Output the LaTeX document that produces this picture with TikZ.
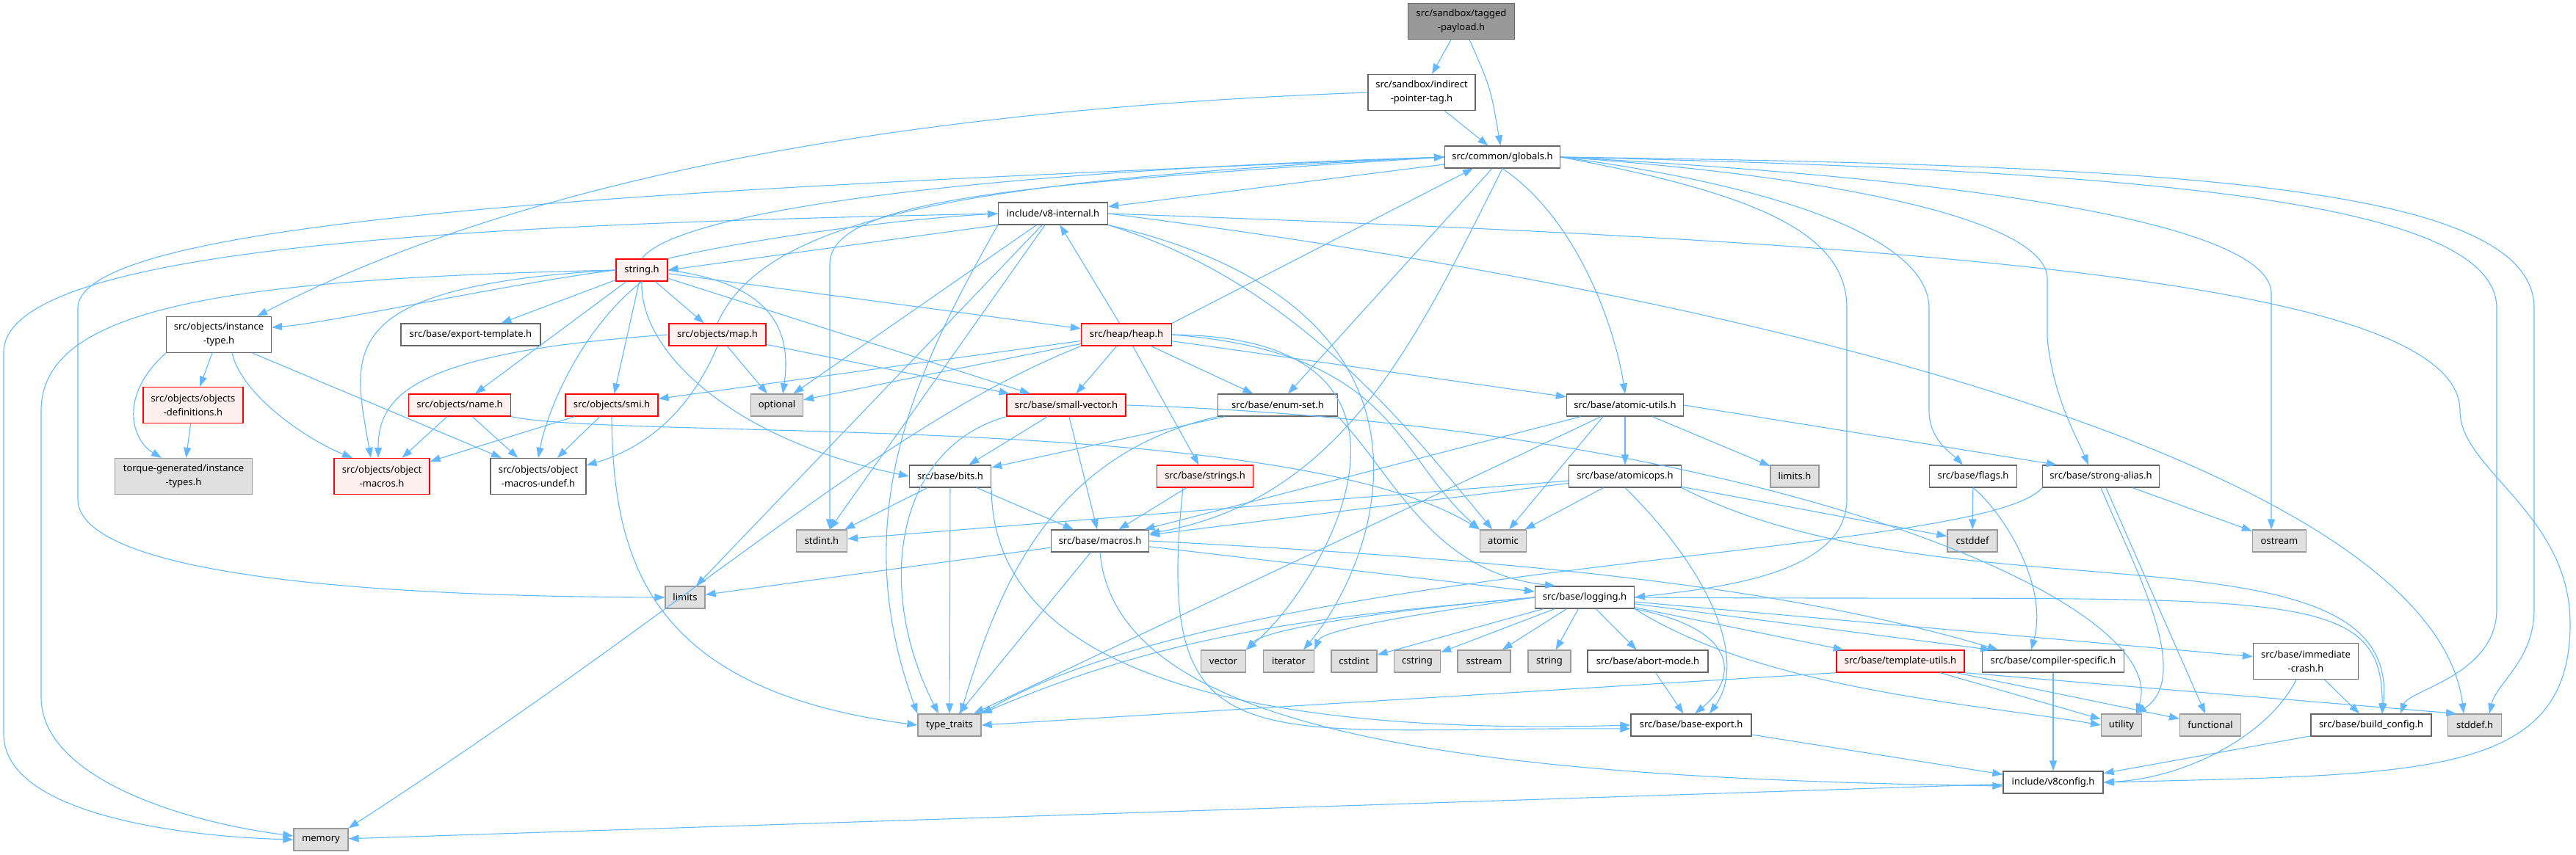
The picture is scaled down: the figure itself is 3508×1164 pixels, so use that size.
\documentclass[tikz,border=0pt]{standalone}
\usepackage{fontspec}
\setmainfont{Noto Sans}
\usetikzlibrary{arrows.meta}
\definecolor{edgeblue}{HTML}{63B8FF}
\definecolor{hdrline}{HTML}{666666}
\definecolor{sysline}{HTML}{999999}
\definecolor{sysfill}{HTML}{E0E0E0}
\definecolor{cutline}{HTML}{FF0000}
\definecolor{cutfill}{HTML}{FFF0F0}
\definecolor{rootfill}{HTML}{999999}
\tikzset{
  hdr/.style={draw=hdrline, fill=white, line width=1.3pt, inner sep=0pt,
    minimum height=30pt, align=center, font=\fontsize{13pt}{19pt}\selectfont},
  syshdr/.style={hdr, draw=sysline, fill=sysfill},
  cuthdr/.style={hdr, draw=cutline, fill=cutfill},
  roothdr/.style={hdr, fill=rootfill},
  twoline/.style={minimum height=49pt},
  incl/.style={draw=edgeblue, line width=1.1pt, -{Triangle[length=14pt,width=10pt]}}
}
\begin{document}
\begin{tikzpicture}[x=1pt,y=-1pt]
\useasboundingbox (0,0) rectangle (3508,1164);

\node[roothdr,twoline,minimum width=145pt] (tagged) at (1990,29) {src/sandbox/tagged\\-payload.h};
\node[hdr,twoline,minimum width=146pt] (indirect) at (1936,126) {src/sandbox/indirect\\-pointer-tag.h};
\node[hdr,minimum width=157pt] (globals) at (2046,214) {src/common/globals.h};
\node[hdr,minimum width=149pt] (v8internal) at (1434,291) {include/v8-internal.h};
\node[cuthdr,minimum width=70pt] (stringh) at (874,368) {string.h};
\node[hdr,twoline,minimum width=143pt] (instancetype) at (298,456) {src/objects/instance\\-type.h};
\node[hdr,minimum width=190pt] (exporttemplate) at (641,456) {src/base/export-template.h};
\node[cuthdr,minimum width=132pt] (maph) at (977,456) {src/objects/map.h};
\node[cuthdr,minimum width=123pt] (heaph) at (1534,456) {src/heap/heap.h};
\node[cuthdr,twoline,minimum width=136pt] (objdefs) at (263,552) {src/objects/objects\\-definitions.h};
\node[cuthdr,minimum width=139pt] (nameh) at (626,552) {src/objects/name.h};
\node[cuthdr,minimum width=126pt] (smih) at (833,552) {src/objects/smi.h};
\node[syshdr,minimum width=71pt] (optional) at (1058,552) {optional};
\node[cuthdr,minimum width=162pt] (smallvector) at (1452,552) {src/base/small-vector.h};
\node[hdr,minimum width=163pt] (enumset) at (1740,552) {src/base/enum-set.h};
\node[hdr,minimum width=159pt] (atomicutils) at (2213,552) {src/base/atomic-utils.h};
\node[syshdr,twoline,minimum width=187pt] (torque) at (250,649) {torque-generated/instance\\-types.h};
\node[cuthdr,twoline,minimum width=130pt] (objmacros) at (520,649) {src/objects/object\\-macros.h};
\node[hdr,twoline,minimum width=130pt] (macrosundef) at (733,649) {src/objects/object\\-macros-undef.h};
\node[hdr,minimum width=111pt] (bits) at (1294,649) {src/base/bits.h};
\node[cuthdr,minimum width=131pt] (strings) at (1641,649) {src/base/strings.h};
\node[hdr,minimum width=153pt] (atomicops) at (2213,649) {src/base/atomicops.h};
\node[syshdr,minimum width=66pt] (limitsh) at (2444,649) {limits.h};
\node[hdr,minimum width=119pt] (flags) at (2687,649) {src/base/flags.h};
\node[hdr,minimum width=159pt] (strongalias) at (2861,649) {src/base/strong-alias.h};
\node[syshdr,minimum width=69pt] (stdint) at (1119,737) {stdint.h};
\node[hdr,minimum width=133pt] (macros) at (1498,737) {src/base/macros.h};
\node[syshdr,minimum width=63pt] (atomic) at (2047,737) {atomic};
\node[syshdr,minimum width=68pt] (cstddef) at (2686,737) {cstddef};
\node[syshdr,minimum width=73pt] (ostream) at (3104,737) {ostream};
\node[syshdr,minimum width=54pt] (limits) at (933,814) {limits};
\node[hdr,minimum width=135pt] (logging) at (2158,814) {src/base/logging.h};
\node[syshdr,minimum width=61pt] (vector) at (1666,901) {vector};
\node[syshdr,minimum width=69pt] (iterator) at (1755,901) {iterator};
\node[syshdr,minimum width=62pt] (cstdint) at (1844,901) {cstdint};
\node[syshdr,minimum width=63pt] (cstring) at (1930,901) {cstring};
\node[syshdr,minimum width=72pt] (sstream) at (2021,901) {sstream};
\node[syshdr,minimum width=58pt] (string) at (2110,901) {string};
\node[hdr,minimum width=164pt] (abortmode) at (2244,901) {src/base/abort-mode.h};
\node[cuthdr,minimum width=174pt] (templateutils) at (2588,901) {src/base/template-utils.h};
\node[hdr,minimum width=193pt] (compilerspecific) at (2796,901) {src/base/compiler-specific.h};
\node[hdr,twoline,minimum width=143pt] (immediatecrash) at (3140,901) {src/base/immediate\\-crash.h};
\node[syshdr,minimum width=86pt] (typetraits) at (1293,988) {type\_traits};
\node[hdr,minimum width=164pt] (baseexport) at (2303,988) {src/base/base-export.h};
\node[syshdr,minimum width=55pt] (utility) at (2889,988) {utility};
\node[syshdr,minimum width=83pt] (functional) at (3010,988) {functional};
\node[hdr,minimum width=164pt] (buildconfig) at (3229,988) {src/base/build\_config.h};
\node[syshdr,minimum width=73pt] (stddefh) at (3370,988) {stddef.h};
\node[hdr,minimum width=136pt] (v8config) at (2796,1066) {include/v8config.h};
\node[syshdr,minimum width=74pt] (memory) at (437,1144) {memory};

\draw[incl] (tagged) -- (indirect);
\draw[incl] (tagged) .. controls (2030,120) .. (globals);
\draw[incl] (indirect) -- (globals);
\draw[incl] (indirect.west) .. controls (1200,150) and (700,250) .. ([xshift=-20pt]instancetype.north east);

\draw[incl] (globals) -- (v8internal);
\draw[incl] (globals.west) .. controls (1000,255) and (106,290) .. (106,420) -- (106,680) .. controls (106,760) and (350,812) .. (limits.west);
\draw[incl] (globals.west) .. controls (1400,250) and (1130,270) .. (1130,360) -- ([xshift=11pt]stdint.north);
\draw[incl] (globals.east) .. controls (2800,250) and (3093,320) .. (3093,400) -- ([xshift=-11pt]ostream.north);
\draw[incl] (globals.south) .. controls (2150,300) and (2200,450) .. (atomicutils.north);
\draw[incl] (globals.east) .. controls (2900,232) and (3400,270) .. (3400,420) -- (3400,830) .. controls (3400,920) and (3280,940) .. ([xshift=40pt]buildconfig.north);
\draw[incl] (globals.east) .. controls (2950,225) and (3451,250) .. (3451,420) -- (3451,830) .. controls (3451,900) and (3400,930) .. ([xshift=20pt]stddefh.north);
\draw[incl] (globals.east) .. controls (2500,240) and (2788,300) .. (2788,380) -- (2788,460) .. controls (2795,540) and (2830,600) .. ([xshift=-17pt]strongalias.north);
\draw[incl] (globals.east) .. controls (2400,250) and (2627,320) .. (2627,420) -- (2627,560) .. controls (2627,600) and (2660,620) .. ([xshift=-14pt]flags.north);
\draw[incl] (globals.east) .. controls (2400,265) and (2515,320) .. (2515,420) -- (2515,680) .. controls (2515,780) and (2350,800) .. (logging.east);
\draw[incl] (globals) -- (enumset);
\draw[incl] (globals.south) .. controls (1930,460) and (1830,680) .. ([yshift=10pt]macros.east);

\draw[incl] (v8internal.south west) -- (stringh.east);
\draw[incl] (v8internal.east) .. controls (2600,430) and (3320,680) .. ([xshift=-15pt]stddefh.north);
\draw[incl] (v8internal) -- (stdint);
\draw[incl] (v8internal) -- (limits);
\draw[incl] (v8internal) -- (optional);
\draw[incl] (v8internal.south west) .. controls (1250,500) and (1150,700) .. (typetraits.north west);
\draw[incl] (v8internal.south east) .. controls (1750,380) and (1900,560) .. ([xshift=-15pt]atomic.north);
\draw[incl] (v8internal.south east) .. controls (2000,420) and (1880,760) .. ([xshift=20pt]iterator.north);
\draw[incl] (v8internal.west) .. controls (700,305) and (5,330) .. (5,480) -- (5,1000) .. controls (5,1110) and (250,1140) .. (memory.west);
\draw[incl] (v8internal.east) .. controls (2600,330) and (3350,380) .. (3350,560) .. controls (3350,640) and (3500,700) .. (3500,850) .. controls (3500,1060) and (3300,1055) .. (v8config.east);

\draw[incl] (stringh.north) .. controls (920,290) and (1300,235) .. (globals.west);
\draw[incl] (stringh.north east) .. controls (1000,330) and (1200,300) .. (v8internal.west);
\draw[incl] (stringh.west) .. controls (700,385) and (450,440) .. ([yshift=10pt]instancetype.east);
\draw[incl] (stringh) -- (exporttemplate);
\draw[incl] (stringh) -- (maph);
\draw[incl] (stringh) -- (heaph);
\draw[incl] (stringh) -- (smallvector);
\draw[incl] (stringh) -- (smih);
\draw[incl] (stringh) -- (nameh);
\draw[incl] (stringh.west) .. controls (450,390) and (480,480) .. ([xshift=-15pt]objmacros.north);
\draw[incl] (stringh.south) .. controls (790,450) and (745,560) .. (macrosundef.north);
\draw[incl] (stringh.south) .. controls (870,480) and (1000,600) .. (bits.west);
\draw[incl] (stringh.east) .. controls (1040,385) and (1080,440) .. ([xshift=8pt]optional.north);
\draw[incl] (stringh.west) .. controls (300,380) and (56,420) .. (56,560) -- (56,950) .. controls (56,1060) and (250,1120) .. ([yshift=5pt]memory.west);

\draw[incl] (heaph.north east) -- ([xshift=-40pt]globals.south);
\draw[incl] (heaph) -- (v8internal);
\draw[incl] (heaph) -- (optional);
\draw[incl] (heaph) -- (smallvector);
\draw[incl] (heaph) -- (enumset);
\draw[incl] (heaph) -- (atomicutils);
\draw[incl] (heaph) -- (strings);
\draw[incl] (heaph) -- (smih);
\draw[incl] (heaph.east) .. controls (2000,460) and (1800,800) .. (vector.north east);
\draw[incl] (heaph.east) .. controls (1900,480) and (1900,620) .. (atomic.north west);
\draw[incl] (heaph.south west) .. controls (1200,580) and (950,820) .. (memory.north east);

\draw[incl] (maph.north) .. controls (1040,300) and (1300,245) .. (globals.west);
\draw[incl] (maph) -- (optional);
\draw[incl] (maph) -- (smallvector);
\draw[incl] (maph.west) .. controls (560,480) and (515,540) .. ([xshift=-5pt]objmacros.north);
\draw[incl] (maph.south) .. controls (940,560) and (880,610) .. ([yshift=15pt]macrosundef.east);

\draw[incl] (instancetype) -- (objdefs);
\draw[incl] (instancetype.south west) .. controls (160,540) and (180,600) .. ([xshift=-30pt]torque.north);
\draw[incl] ([xshift=18pt]instancetype.south) .. controls (330,540) and (420,600) .. ([xshift=-40pt]objmacros.north);
\draw[incl] ([xshift=46pt]instancetype.south) -- ([xshift=-50pt]macrosundef.north);
\draw[incl] (objdefs) -- (torque);

\draw[incl] (nameh) -- (objmacros);
\draw[incl] (nameh) -- (macrosundef);
\draw[incl] (nameh.south east) .. controls (850,600) and (1750,560) .. (atomic.north west);
\draw[incl] (smih) -- (objmacros);
\draw[incl] (smih) -- (macrosundef);
\draw[incl] (smih.south) .. controls (835,760) and (880,940) .. (typetraits.west);

\draw[incl] (smallvector) -- (bits);
\draw[incl] (smallvector) -- (macros);
\draw[incl] (smallvector.south west) .. controls (1220,610) and (1190,800) .. ([xshift=-15pt]typetraits.north);
\draw[incl] (smallvector.east) .. controls (2400,580) and (2960,820) .. ([xshift=20pt]utility.north);

\draw[incl] (enumset) -- (bits);
\draw[incl] (enumset.south east) .. controls (1900,650) and (1950,780) .. ([xshift=-40pt]logging.north);
\draw[incl] (enumset.south west) .. controls (1430,620) and (1360,800) .. ([xshift=15pt]typetraits.north);

\draw[incl] (atomicutils) -- (atomicops);
\draw[incl] ([xshift=-30pt]atomicutils.south) -- ([xshift=8pt]atomic.north);
\draw[incl] (atomicutils) -- (limitsh);
\draw[incl] (atomicutils) -- (macros);
\draw[incl] (atomicutils) -- (typetraits);
\draw[incl] (atomicutils.east) -- ([xshift=-60pt]strongalias.north);

\draw[incl] (atomicops) -- (atomic);
\draw[incl] (atomicops) -- (stdint);
\draw[incl] (atomicops) -- (macros);
\draw[incl] (atomicops) -- (cstddef);
\draw[incl] (atomicops.south) .. controls (2330,780) and (2380,900) .. ([xshift=25pt]baseexport.north);
\draw[incl] (atomicops.south east) .. controls (2650,850) and (3275,700) .. ([xshift=15pt]buildconfig.north);

\draw[incl] (bits) -- (stdint);
\draw[incl] (bits) -- (macros);
\draw[incl] (bits) -- (typetraits);
\draw[incl] (bits.south east) .. controls (1350,950) and (1800,1000) .. (baseexport.west);
\draw[incl] (strings) -- (macros);
\draw[incl] ([xshift=-30pt]strings.south) .. controls (1570,1050) and (1700,990) .. ([yshift=-5pt]baseexport.west);

\draw[incl] (macros) -- (limits);
\draw[incl] (macros) -- (typetraits);
\draw[incl] (macros) -- (logging);
\draw[incl] (macros.east) .. controls (2000,760) and (2400,790) .. ([xshift=-75pt]compilerspecific.north);
\draw[incl] (macros.south) .. controls (1520,1000) and (2000,1060) .. ([yshift=-5pt]v8config.west);

\draw[incl] (flags) -- (cstddef);
\draw[incl] (flags.south) .. controls (2730,700) and (2790,800) .. ([xshift=-30pt]compilerspecific.north);
\draw[incl] (strongalias) -- (ostream);
\draw[incl] (strongalias.south) .. controls (2900,760) and (2990,920) .. ([xshift=20pt]utility.north);
\draw[incl] (strongalias) -- (functional);
\draw[incl] (strongalias.south west) .. controls (2700,760) and (1700,760) .. (typetraits.north east);

\draw[incl] (logging.west) .. controls (1800,840) and (1600,860) .. (typetraits.north east);
\draw[incl] (logging.west) .. controls (1850,835) and (1720,860) .. (vector.north east);
\draw[incl] (logging.west) .. controls (1900,840) and (1800,860) .. (iterator.north east);
\draw[incl] (logging) -- (cstdint);
\draw[incl] (logging) -- (cstring);
\draw[incl] (logging) -- (sstream);
\draw[incl] (logging) -- (string);
\draw[incl] (logging) -- (abortmode);
\draw[incl] (logging) -- (templateutils);
\draw[incl] (logging.south east) .. controls (2380,860) and (2360,930) .. ([xshift=5pt]baseexport.north);
\draw[incl] (logging) -- ([xshift=-85pt]compilerspecific.north);
\draw[incl] (logging) -- (immediatecrash);
\draw[incl] (logging.east) .. controls (3100,820) and (3245,790) .. ([xshift=15pt]buildconfig.north);
\draw[incl] (logging.south east) .. controls (2400,940) and (2700,960) .. (utility.west);

\draw[incl] (templateutils) -- (utility);
\draw[incl] (templateutils) -- (functional);
\draw[incl] (templateutils.south east) -- ([xshift=-25pt]stddefh.north);
\draw[incl] (templateutils.south west) -- (typetraits.east);
\draw[incl] (abortmode) -- (baseexport);
\draw[incl] (compilerspecific) -- (v8config);
\draw[incl] (immediatecrash) -- (buildconfig);
\draw[incl] ([xshift=-13pt]immediatecrash.south) .. controls (3090,1000) and (2980,1060) .. (v8config.east);
\draw[incl] (baseexport) -- (v8config);
\draw[incl] (buildconfig) -- (v8config);
\draw[incl] (v8config) -- (memory);
\end{tikzpicture}
\end{document}
